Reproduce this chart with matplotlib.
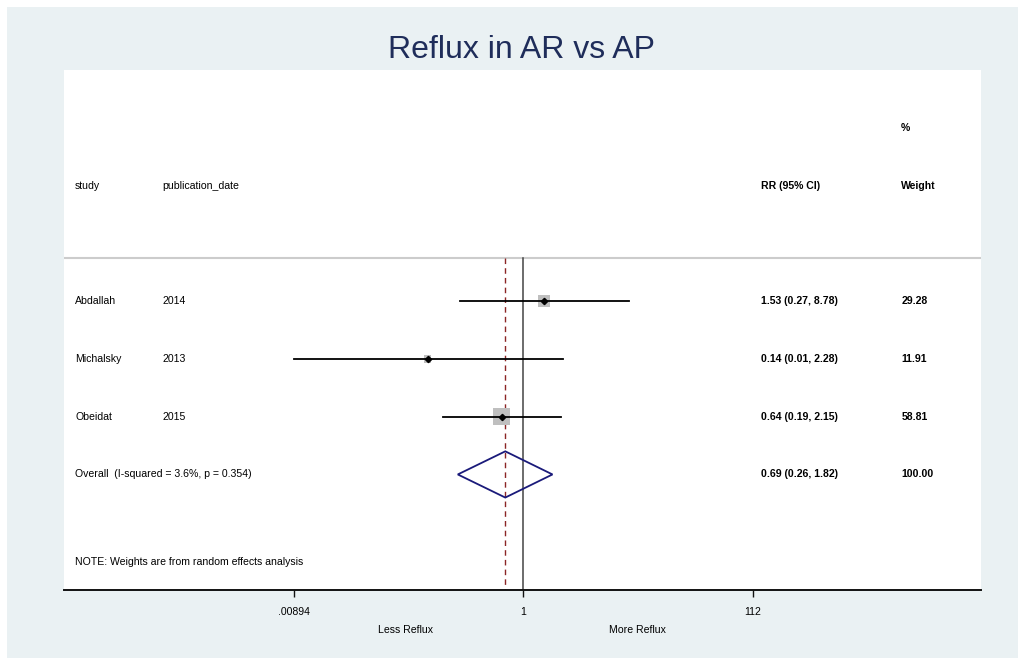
import matplotlib
matplotlib.use("Agg")
import matplotlib.pyplot as plt
from matplotlib.patches import Polygon, Rectangle
import matplotlib.transforms as mtransforms

plt.rcParams['font.family'] = ['Liberation Sans', 'DejaVu Sans']

# ---- data ----
title = "Reflux in AR vs AP"
studies = ["Abdallah", "Michalsky", "Obeidat"]
years = ["2014", "2013", "2015"]
rr = [1.53, 0.14, 0.64]
ci_lo = [0.27, 0.00894, 0.19]
ci_hi = [8.78, 2.28, 2.15]
weights = [29.28, 11.91, 58.81]
overall_label = "Overall  (I-squared = 3.6%, p = 0.354)"
overall_rr = 0.69
overall_lo = 0.26
overall_hi = 1.82
overall_weight = 100.00
tick_vals = [0.00894, 1, 112]
tick_labels = [".00894", "1", "112"]
note = "NOTE: Weights are from random effects analysis"

W, H = 1018, 658
fig = plt.figure(figsize=(W / 100, H / 100), dpi=100)
fig.patch.set_facecolor("#EAF1F3")
# white margins at top and left
fig.patches.append(Rectangle((0, 0), 7 / W, 1, transform=fig.transFigure,
                             facecolor="white", edgecolor="none", zorder=-1))
fig.patches.append(Rectangle((0, 1 - 7 / H), 1, 7 / H, transform=fig.transFigure,
                             facecolor="white", edgecolor="none", zorder=-1))

left, right, top, bottom = 64, 981, 70, 590
ax = fig.add_axes([left / W, 1 - bottom / H, (right - left) / W, (bottom - top) / H])
ax.set_facecolor("white")
ax.set_xscale("log")
ax.set_xlim(10 ** -4.1, 10 ** 4.085)
ax.set_ylim(6, -3)

for s in ["top", "left", "right"]:
    ax.spines[s].set_visible(False)
ax.spines["bottom"].set_linewidth(1.4)
ax.spines["bottom"].set_color("#111111")
ax.set_yticks([])
ax.set_xticks(tick_vals)
ax.set_xticklabels(tick_labels)
ax.xaxis.set_minor_locator(matplotlib.ticker.NullLocator())
ax.tick_params(axis="x", direction="out", length=5, width=1, pad=7,
               labelsize=7.6, color="#111111")

sep_y = 0.256
ax.axhline(sep_y, color="#CCCCCC", lw=1.5)
ax.plot([1, 1], [sep_y, 6], color="#444444", lw=1.1, zorder=2)
ax.plot([overall_rr, overall_rr], [sep_y, 6], color="#8B2525", lw=1.0,
        dashes=(4, 3), zorder=2)

rows = [1, 2, 3]
fs = 7.6
xt = mtransforms.blended_transform_factory(ax.transAxes, ax.transData)
col_study, col_year, col_rr, col_w = 0.012, 0.107, 0.760, 0.913

for r, name, yr, e, lo, hi, w in zip(rows, studies, years, rr, ci_lo, ci_hi, weights):
    ax.scatter([e], [r], marker="s", s=2.4 * w, color="#BFBFBF", zorder=3,
               edgecolors="none")
    ax.plot([lo, hi], [r, r], color="black", lw=1.3, zorder=4)
    ax.plot([e], [r], marker="D", ms=3.2, color="black", zorder=5)
    ax.text(col_study, r, name, transform=xt, fontsize=fs, va="center")
    ax.text(col_year, r, yr, transform=xt, fontsize=fs, va="center")
    ax.text(col_rr, r, f"{e:.2f} ({lo:.2f}, {hi:.2f})", transform=xt,
            fontsize=fs, va="center", fontweight="bold")
    ax.text(col_w, r, f"{w:.2f}", transform=xt, fontsize=fs, va="center",
            fontweight="bold")

r_ov = 4
dh = 0.4
diamond = Polygon([(overall_lo, r_ov), (overall_rr, r_ov - dh),
                   (overall_hi, r_ov), (overall_rr, r_ov + dh)],
                  closed=True, fill=False, edgecolor="#1A1A7A", lw=1.3, zorder=4)
ax.add_patch(diamond)
ax.text(col_study, r_ov, overall_label, transform=xt, fontsize=fs, va="center")
ax.text(col_rr, r_ov, f"{overall_rr:.2f} ({overall_lo:.2f}, {overall_hi:.2f})",
        transform=xt, fontsize=fs, va="center", fontweight="bold")
ax.text(col_w, r_ov, f"{overall_weight:.2f}", transform=xt, fontsize=fs,
        va="center", fontweight="bold")

ax.text(col_study, 5.52, note, transform=xt, fontsize=fs, va="center")

# headers
ax.text(col_study, -1, "study", transform=xt, fontsize=fs, va="center")
ax.text(col_year, -1, "publication_date", transform=xt, fontsize=fs, va="center")
ax.text(col_rr, -1, "RR (95% CI)", transform=xt, fontsize=fs, va="center",
        fontweight="bold")
ax.text(col_w, -1, "Weight", transform=xt, fontsize=fs, va="center",
        fontweight="bold")
ax.text(col_w, -2, "%", transform=xt, fontsize=fs, va="center",
        fontweight="bold")

# direction labels
fig.text(405 / W, 1 - 630 / H, "Less Reflux", ha="center", va="center", fontsize=fs)
fig.text(637 / W, 1 - 630 / H, "More Reflux", ha="center", va="center", fontsize=fs)

fig.text(522 / W, 1 - 58 / H, title, ha="center", va="baseline",
         fontsize=23, color="#1F2D5A")

fig.savefig("out.png", dpi=100, facecolor=fig.get_facecolor())
